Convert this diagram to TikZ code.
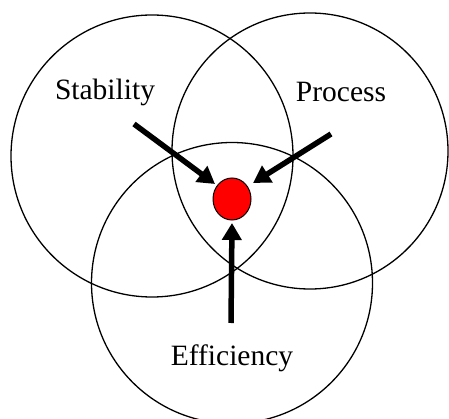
\documentclass[tikz,border=0pt]{standalone}
\usepackage{fontspec}
\setmainfont{Liberation Serif}
\usetikzlibrary{arrows.meta,shapes.geometric}
\begin{document}
\begin{tikzpicture}[x=1pt,y=-1pt,
  ring/.style={draw=black,line width=1.3pt},
  lbl/.style={font=\fontsize{29.5}{35}\selectfont,inner sep=0pt},
  bigarrow/.style={line width=5.5pt,-{Triangle[length=17pt,width=19pt]},shorten >=0pt}]
\useasboundingbox (0,0) rectangle (449,419);
\node[ring,circle,minimum size=282pt,inner sep=0pt] (S) at (152,156) {};
\node[ring,circle,minimum size=276pt,inner sep=0pt] (P) at (310,151) {};
\node[ring,circle,minimum size=281pt,inner sep=0pt] (E) at (232,283) {};
\node[draw=black,line width=1pt,fill=red,ellipse,minimum width=38pt,minimum height=42pt,inner sep=0pt] (c) at (232,199) {};
\node[lbl] (ts) at (105,92) {Stability};
\node[lbl] (tp) at (341,92) {Process};
\node[lbl] (te) at (232,358) {Efficiency};
\coordinate (as) at (134,124);
\coordinate (ap) at (331,134);
\coordinate (ae) at (231,323);
\coordinate (hs) at (215,184);
\coordinate (hp) at (253,183);
\coordinate (he) at (232,223);
\draw[bigarrow] (as) -- (hs);
\draw[bigarrow] (ap) -- (hp);
\draw[bigarrow] (ae) -- (he);
\end{tikzpicture}
\end{document}
